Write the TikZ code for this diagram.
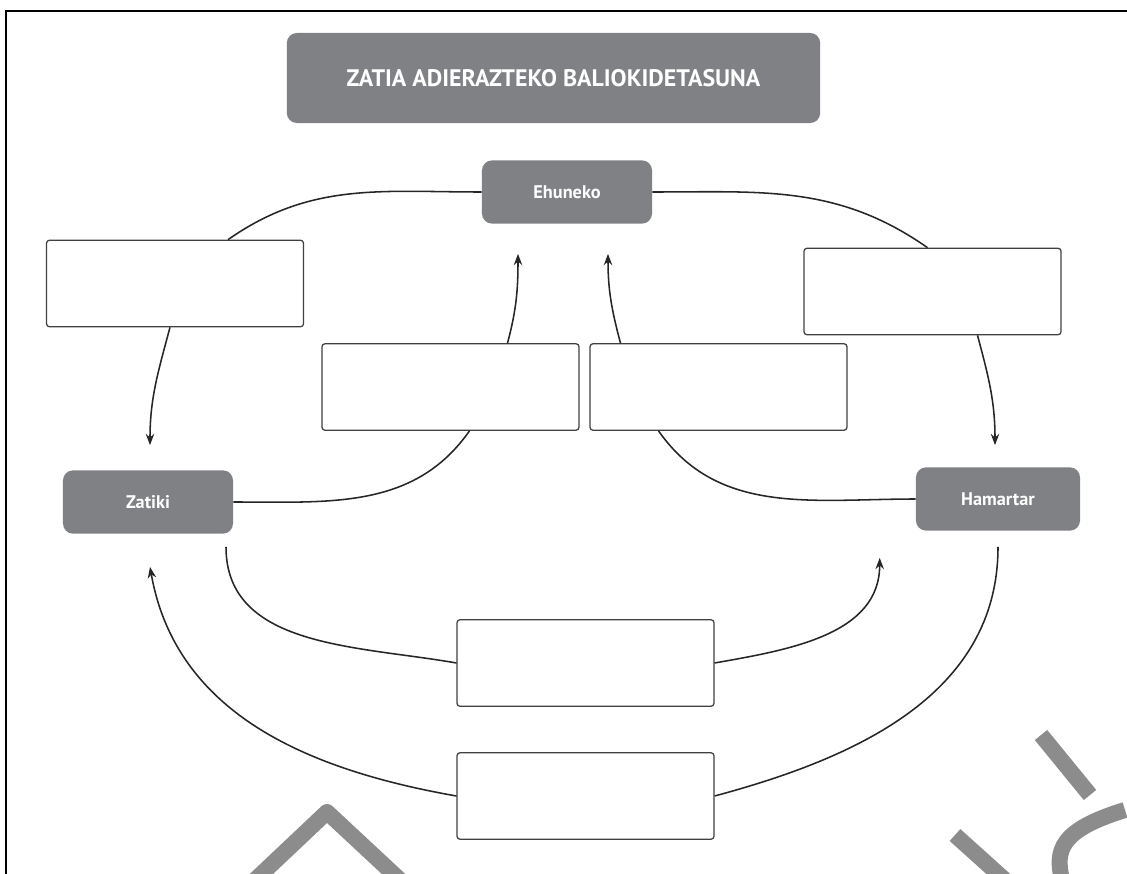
\documentclass[tikz,border=0pt]{standalone}
\usepackage{fontspec}
\setsansfont{PT Sans}
\usepackage{tikz}
\usepackage{xcolor}
\usetikzlibrary{calc, arrows.meta}

\definecolor{boxgray}{RGB}{128,129,133}
\definecolor{markgray}{RGB}{140,140,140}

\begin{document}
\begin{tikzpicture}[x=0.025cm, y=0.025cm,
      head/.style={
        rectangle,
        fill=boxgray,
        rounded corners=0.25cm,
        text=white,
        font=\sffamily\bfseries\fontsize{13}{15}\selectfont,
        minimum width=4.25cm,
        minimum height=1.58cm
      },
      blank/.style={
        rectangle,
        draw=black!75,
        line width=0.9pt,
        rounded corners=2pt,
        minimum width=6.42cm,
        minimum height=2.16cm
      },
      link/.style={line width=1.1pt, black!85},
      >={Stealth[length=8pt,width=6pt]}]

    \useasboundingbox (0,0) rectangle (1127,-874);
    \draw[line width=1pt] (6,-874) -- (6,-11) -- (1127,-11);

    \node[head, minimum width=13.33cm, minimum height=2.25cm,
          font=\sffamily\bfseries\fontsize{17}{20}\selectfont] (title) at (553.5,-78) {ZATIA ADIERAZTEKO BALIOKIDETASUNA};
    \node[head] (ehu) at (567,-192) {Ehuneko};
    \node[head] (zat) at (148,-502) {Zatiki};
    \node[head, minimum width=4.1cm] (ham) at (998,-499) {Hamartar};

    \node[blank] (tl) at (175,-283.5) {};
    \node[blank] (tr) at (932.5,-291.5) {};
    \node[blank] (ml) at (450.5,-387) {};
    \node[blank] (mr) at (718.5,-387) {};
    \node[blank] (b1) at (585.5,-663) {};
    \node[blank] (b2) at (585.5,-796) {};

    \draw[link] ($(tl.north)+(53,0)$) to[out=35,in=180] (ehu.west);
    \draw[link] (ehu.east) to[out=0,in=145] ($(tr.north)+(-5,0)$);
    \draw[link,->] ($(tl.south)+(-5,0)$) to[out=-105,in=90] ($(zat.north)+(2,25)$);
    \draw[link,->] ($(tr.south)+(45,0)$) to[out=-75,in=90] ($(ham.north)+(-3,22)$);
    \draw[link,->] ($(ml.north)+(57,0)$) to[out=75,in=-90] ($(ehu.south)+(-49,-30)$);
    \draw[link,->] ($(mr.north)+(-98,0)$) to[out=105,in=-90] ($(ehu.south)+(41,-30)$);
    \draw[link] ($(ml.south)+(19,0)$) to[out=-125,in=0] (zat.east);
    \draw[link] ($(mr.south)+(-60,0)$) to[out=-55,in=180] (ham.west);
    \draw[link] ($(zat.south)+(78,-13)$) to[out=-90,in=170] (b1.west);
    \draw[link,->] (b1.east) to[out=10,in=-90] ($(ham.south west)+(-36,-27)$);
    \draw[link,->] (b2.west) to[out=170,in=-80] ($(zat.south)+(2,-33)$);
    \draw[link] (b2.east) to[out=15,in=-90] ($(ham.south)+(0,-16)$);

    \begin{scope}[markgray, line width=0.4cm, line join=round]
      \draw (255,-880) -- (327,-812) -- (400,-880);
      \draw (1041,-735) -- (1090,-795);
      \draw (1125,-810) .. controls (1060,-830) and (1055,-850) .. (1062,-880);
      \draw (955,-835) -- (1005,-880);
    \end{scope}
  \end{tikzpicture}
\end{document}
